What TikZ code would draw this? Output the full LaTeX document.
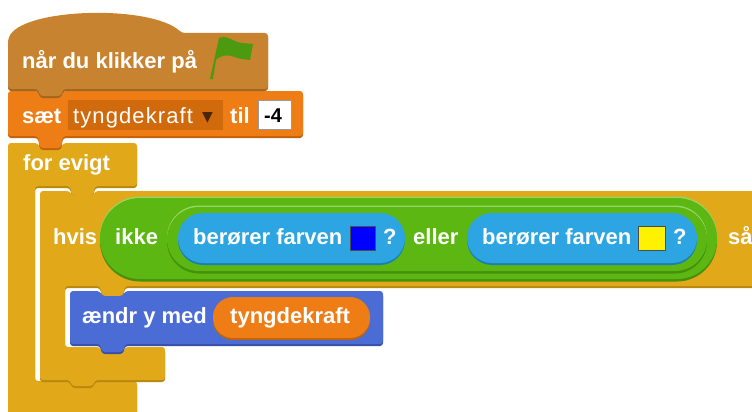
\documentclass[tikz,border=0pt]{standalone}
\usepackage{fontspec}
\setmainfont{Liberation Sans}
\newfontfamily\menufont{Liberation Sans}[LetterSpace=5.0]
\newfontfamily\arrowfont{DejaVu Sans}
\definecolor{events}{HTML}{C88330}
\definecolor{eventsdark}{HTML}{A0661F}
\definecolor{variable}{HTML}{EE7D16}
\definecolor{variabledark}{HTML}{C2620C}
\definecolor{menu}{HTML}{D06A0C}
\definecolor{control}{HTML}{E1A91A}
\definecolor{controldark}{HTML}{B8870E}
\definecolor{operator}{HTML}{5CB712}
\definecolor{operatordark}{HTML}{46900C}
\definecolor{operatorlight}{HTML}{94D668}
\definecolor{sensing}{HTML}{2CA5E2}
\definecolor{sensingdark}{HTML}{1C7FB4}
\definecolor{motion}{HTML}{4A6CD4}
\definecolor{motiondark}{HTML}{3550A8}
\definecolor{flag}{HTML}{4C9A10}
\definecolor{menuarrow}{HTML}{4A2606}
\usetikzlibrary{positioning}

\begin{document}
\begin{tikzpicture}[x=1pt,y=-1pt,line join=round,
      every node/.append style={inner sep=0pt,anchor=base west,text=white,
        font=\fontsize{22}{22}\selectfont\bfseries}]
    \tikzstyle{stack} = [rounded corners=3pt]
    \tikzstyle{hatblock} = [stack,fill=events,preaction={fill=eventsdark,transform canvas={yshift=-2pt}}]
    \tikzstyle{varblock} = [stack,fill=variable,preaction={fill=variabledark,transform canvas={yshift=-2pt}}]
    \tikzstyle{ctrlblock} = [stack,fill=control,preaction={fill=controldark,transform canvas={yshift=-2pt}}]
    \tikzstyle{moveblock} = [stack,fill=motion,preaction={fill=motiondark,transform canvas={yshift=-2pt}}]
    \tikzstyle{boolblock} = [fill=operator,preaction={fill=operatorlight,transform canvas={yshift=1.5pt}},
                             preaction={fill=operatordark,transform canvas={yshift=-2.5pt}}]
    \tikzstyle{senseblock} = [fill=sensing,preaction={fill=sensingdark,transform canvas={yshift=-2pt}}]
    \tikzstyle{reporter} = [fill=variable,preaction={fill=variabledark,transform canvas={yshift=-2pt}}]
    \tikzstyle{swatch} = [draw=black!70,line width=0.8pt]
    \useasboundingbox (0,0) rectangle (752,412);
    \clip (0,0) rectangle (752,412);
    % for evigt
    \path[ctrlblock] (8,143) -- (38,143) -- (40,148) -- (61,148) -- (63,143) -- (137,143) -- (137,186)
      -- (95,186) -- (93,196) -- (72,196) -- (70,186) -- (35,186) -- (35,381) -- (70,381) -- (72,386)
      -- (93,386) -- (95,381) -- (137,381) -- (137,430) -- (8,430) -- cycle;
    % hvis ... så
    \path[ctrlblock] (40,191) -- (70,191) -- (72,196) -- (93,196) -- (95,191) -- (780,191) -- (780,286)
      -- (125,286) -- (123,296) -- (102,296) -- (100,286) -- (65,286) -- (65,347) -- (100,347) -- (102,352)
      -- (123,352) -- (125,347) -- (165,347) -- (165,380) -- (95,380) -- (93,386) -- (72,386) -- (70,380)
      -- (40,380) -- cycle;
    \path[boolblock,rounded corners=40pt] (100,198) rectangle (717,279);
    \path[boolblock,rounded corners=32pt] (167,207) rectangle (707,271);
    \path[senseblock,rounded corners=25pt] (178,213) rectangle (405,263);
    \path[senseblock,rounded corners=25pt] (467,213) rectangle (697,263);
    \fill[swatch,fill=blue] (350,226) rectangle (375,250);
    \fill[swatch,fill=yellow] (638,226) rectangle (665,250);
    % ændr y med
    \path[moveblock] (70,291) -- (100,291) -- (102,296) -- (123,296) -- (125,291) -- (383,291) -- (383,344)
      -- (125,344) -- (123,352) -- (102,352) -- (100,344) -- (70,344) -- cycle;
    \path[reporter,rounded corners=20pt] (213,297) rectangle (370,338);
    % sæt
    \path[varblock] (8,91) -- (38,91) -- (40,96) -- (61,96) -- (63,91) -- (303,91) -- (303,136)
      -- (63,136) -- (61,148) -- (40,148) -- (38,136) -- (8,136) -- cycle;
    \fill[menu] (68,100) rectangle (223,130);
    \fill[white,draw=black!40] (258,100) rectangle (291,129);
    % når du klikker på
    \path[hatblock] (8,89) -- (8,40) .. controls (20,8) and (150,4) .. (182,33) -- (268,33) -- (268,89)
      -- (63,89) -- (61,96) -- (40,96) -- (38,89) -- cycle;
    \fill[flag] (210,79) -- (219,38) .. controls (226,34) and (233,42) .. (242,43) -- (253,44) -- (250,60)
      -- (242,59) .. controls (234,58) and (226,51) .. (216,60) -- (213,79) -- cycle;

    \node (when) at (22,69) {når du klikker på};
    \node (set) at (22,123) {sæt};
    \node (varname) [font=\menufont\fontsize{22}{22}\selectfont] at (73,123) {tyngdekraft};
    \node (menuarrow) [font=\arrowfont\fontsize{14}{14}\selectfont,text=menuarrow] at (202,121) {▼};
    \node (to) at (230,123) {til};
    \node (value) [font=\fontsize{20}{20}\selectfont\bfseries,text=black] at (264,122) {-4};
    \node (forever) at (23,170) {for evigt};
    \node (if) at (53,244) {hvis};
    \node (not) at (115,244) {ikke};
    \node (touch1) at (193,244) {berører farven};
    \node (ask1) at (383,244) {?};
    \node (or) at (413,244) {eller};
    \node (touch2) at (482,244) {berører farven};
    \node (ask2) at (673,244) {?};
    \node (then) at (728,244) {så};
    \node (change) at (82,323) {ændr y med};
    \node (gravity) at (230,323) {tyngdekraft};
  \end{tikzpicture}
\end{document}
